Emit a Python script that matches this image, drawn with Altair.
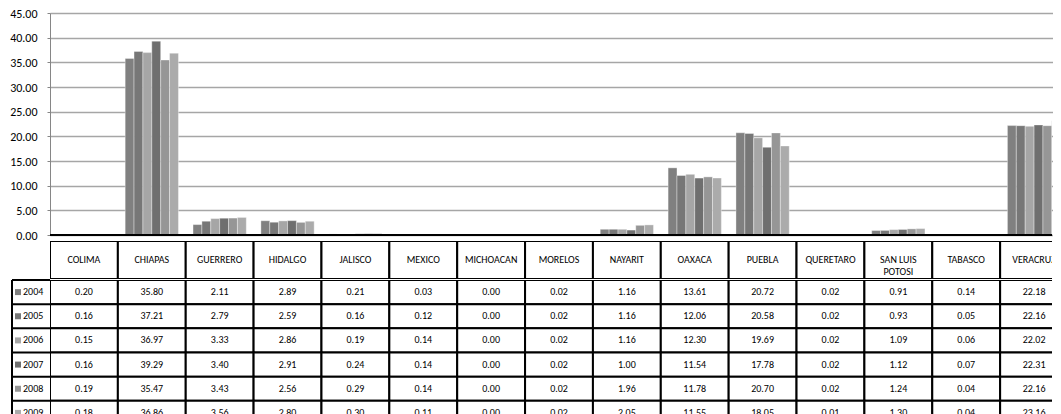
import altair as alt
import pandas as pd

states = ["COLIMA", "CHIAPAS", "GUERRERO", "HIDALGO", "JALISCO", "MEXICO",
          "MICHOACAN", "MORELOS", "NAYARIT", "OAXACA", "PUEBLA", "QUERETARO",
          "SAN LUIS POTOSI", "TABASCO", "VERACRUZ"]
header_labels = ["COLIMA", "CHIAPAS", "GUERRERO", "HIDALGO", "JALISCO", "MEXICO",
                 "MICHOACAN", "MORELOS", "NAYARIT", "OAXACA", "PUEBLA", "QUERETARO",
                 "SAN LUIS\nPOTOSI", "TABASCO", "VERACRUZ"]
years = ["2004", "2005", "2006", "2007", "2008", "2009"]

v2004 = [0.20, 35.80, 2.11, 2.89, 0.21, 0.03, 0.00, 0.02, 1.16, 13.61, 20.72, 0.02, 0.91, 0.14, 22.18]
v2005 = [0.16, 37.21, 2.79, 2.59, 0.16, 0.12, 0.00, 0.02, 1.16, 12.06, 20.58, 0.02, 0.93, 0.05, 22.16]
v2006 = [0.15, 36.97, 3.33, 2.86, 0.19, 0.14, 0.00, 0.02, 1.16, 12.30, 19.69, 0.02, 1.09, 0.06, 22.02]
v2007 = [0.16, 39.29, 3.40, 2.91, 0.24, 0.14, 0.00, 0.02, 1.00, 11.54, 17.78, 0.02, 1.12, 0.07, 22.31]
v2008 = [0.19, 35.47, 3.43, 2.56, 0.29, 0.14, 0.00, 0.02, 1.96, 11.78, 20.70, 0.02, 1.24, 0.04, 22.16]
v2009 = [0.18, 36.86, 3.56, 2.80, 0.30, 0.11, 0.00, 0.02, 2.05, 11.55, 18.05, 0.01, 1.30, 0.04, 23.16]

year_colors = ["#808080", "#777777", "#a6a6a6", "#6f6f6f", "#969696", "#ababab"]
y_ticks = [0, 5, 10, 15, 20, 25, 30, 35, 40, 45]

FONT = "Carlito, 'Liberation Sans Narrow', 'DejaVu Sans Condensed', Roboto, sans-serif"
FULL_W = 1018   # full width of the 15 category columns
W = 1002        # visible plot width (the rightmost column is cut off, as in the source)
FULL_H = 145    # full height of the six data rows
ROWS_H = 140    # visible part (the last row is cut off, as in the source)

series = [v2004, v2005, v2006, v2007, v2008, v2009]
rows = []
for yr, vals in zip(years, series):
    for st, v in zip(states, vals):
        rows.append({"state": st, "year": yr, "value": v})
df = pd.DataFrame(rows)
hdr = pd.DataFrame({"state": states, "label": header_labels, "row": ["h"] * len(states)})
yrs = pd.DataFrame({"year": years})

color_scale = alt.Scale(domain=years, range=year_colors)
y_scale = alt.Scale(domain=[0, 45], nice=False)
y_axis = alt.Axis(values=y_ticks, format=".2f", title=None, tickSize=3, labelPadding=10,
                  labelFontSize=12, labelColor="#000", labelFont=FONT,
                  domainColor="#868686", tickColor="#868686",
                  gridColor="#a6a6a6", gridWidth=1.5)
x_table = alt.X("state:N", scale=alt.Scale(domain=states, paddingInner=0, paddingOuter=0,
                                           range=[0, FULL_W]), axis=None)

bar_marks = alt.Chart(df).mark_bar(stroke="white", strokeWidth=0.6, strokeOpacity=0.6, clip=True).encode(
    x=alt.X("state:N", scale=alt.Scale(domain=states, paddingInner=0.215, paddingOuter=0.1075,
                                       range=[0, FULL_W]), axis=None),
    xOffset=alt.XOffset("year:N", scale=alt.Scale(domain=years, paddingInner=0, paddingOuter=0)),
    y=alt.Y("value:Q", scale=y_scale, axis=y_axis),
    color=alt.Color("year:N", scale=color_scale, legend=None),
)
baseline = alt.Chart(pd.DataFrame({"value": [0]})).mark_rule(color="#000", strokeWidth=2).encode(
    y=alt.Y("value:Q", scale=y_scale, axis=y_axis))
bars = alt.layer(bar_marks, baseline).properties(width=W, height=222)

header_cells = alt.Chart(hdr).mark_rect(fill="white", stroke="black", strokeWidth=2, clip=True).encode(
    x=x_table,
    y=alt.Y("row:N", scale=alt.Scale(paddingInner=0, paddingOuter=0), axis=None),
)
header_text = alt.Chart(hdr).mark_text(fontSize=10, font=FONT, color="#000", lineBreak="\n",
                                       clip=True).encode(
    x=x_table,
    y=alt.Y("row:N", scale=alt.Scale(paddingInner=0, paddingOuter=0), axis=None),
    text="label:N",
)
header = alt.layer(header_cells, header_text).properties(width=W, height=38)

row_scale = alt.Scale(domain=years, paddingInner=0, paddingOuter=0, range=[0, FULL_H])
y_rows = alt.Y("year:N", scale=row_scale, axis=None)
cells = alt.Chart(df).mark_rect(fill="white", stroke="black", strokeWidth=2, clip=True).encode(
    x=x_table, y=y_rows)
cell_text = alt.Chart(df).mark_text(fontSize=10, font=FONT, color="#000", clip=True).encode(
    x=x_table, y=y_rows, text=alt.Text("value:Q", format=".2f"))
label_lines = alt.Chart(yrs).mark_rule(color="black", strokeWidth=2).encode(
    x=alt.value(-38), x2=alt.value(0),
    y=alt.Y("year:N", scale=row_scale, axis=None, bandPosition=0))
label_left = alt.Chart(yrs.head(1)).mark_rule(color="black", strokeWidth=2).encode(
    x=alt.value(-38), y=alt.Y("year:N", scale=row_scale, axis=None, bandPosition=0),
    y2=alt.value(ROWS_H))
label_keys = alt.Chart(yrs).mark_square(size=36, opacity=1).encode(
    x=alt.value(-32), y=y_rows, color=alt.Color("year:N", scale=color_scale, legend=None))
label_text = alt.Chart(yrs).mark_text(fontSize=10, font=FONT, color="#000", align="left").encode(
    x=alt.value(-27), y=y_rows, text="year:N")
table = alt.layer(cells, cell_text, label_lines, label_left, label_keys, label_text).properties(
    width=W, height=ROWS_H)

chart = alt.vconcat(bars, header, table, spacing=0).properties(
    padding={"left": 1, "top": -1, "right": 0, "bottom": 0}
).configure_view(stroke=None).configure_concat(spacing=0)

chart.save("out.html", embed_options={"renderer": "svg", "actions": False})
